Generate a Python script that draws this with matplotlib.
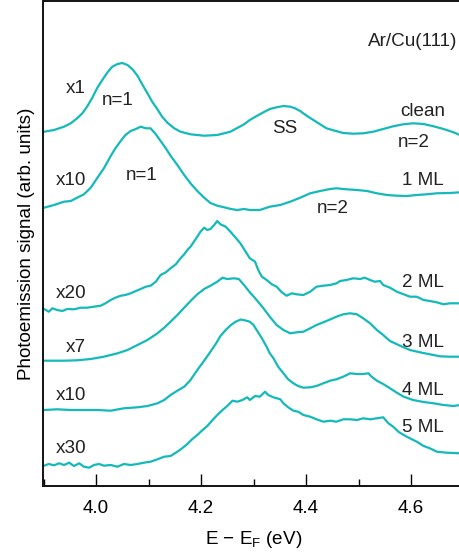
import matplotlib
matplotlib.use("Agg")
import matplotlib.pyplot as plt
from matplotlib.ticker import MultipleLocator

plt.rcParams['font.family'] = ['Liberation Sans', 'DejaVu Sans']
plt.rcParams['mathtext.fontset'] = 'custom'
plt.rcParams['mathtext.rm'] = 'Liberation Sans'
plt.rcParams['mathtext.it'] = 'Liberation Sans'

# ---- data (energy in eV, signal in arb. units, vertical offsets included) ----
e_clean = [3.901, 3.920, 3.939, 3.952, 3.964, 3.974, 3.983, 3.993, 4.002, 4.012,
           4.022, 4.031, 4.041, 4.050, 4.060, 4.069, 4.079, 4.088, 4.098, 4.107,
           4.117, 4.126, 4.136, 4.149, 4.161, 4.180, 4.206, 4.231, 4.256, 4.282,
           4.293, 4.306, 4.319, 4.331, 4.344, 4.357, 4.370, 4.379, 4.389, 4.401,
           4.414, 4.427, 4.439, 4.452, 4.471, 4.490, 4.509, 4.528, 4.547, 4.566,
           4.585, 4.604, 4.624, 4.643, 4.662, 4.681, 4.693]
s_clean = [354.3, 356.0, 359.3, 362.7, 367.7, 372.7, 379.3, 388.3, 397.7, 406.0,
           413.7, 419.3, 422.0, 423.0, 421.0, 417.0, 410.3, 401.7, 392.7, 384.3,
           376.7, 369.3, 363.3, 357.7, 354.3, 351.7, 350.3, 351.0, 354.3, 361.7,
           366.0, 370.0, 373.7, 377.0, 378.7, 380.0, 379.3, 377.7, 375.0, 370.3,
           366.0, 361.7, 357.7, 355.7, 353.0, 352.3, 352.7, 354.3, 357.0, 359.7,
           361.7, 362.7, 362.0, 359.7, 357.0, 353.7, 351.0]

e_1ml = [3.901, 3.920, 3.939, 3.952, 3.964, 3.977, 3.990, 4.002, 4.015, 4.028,
         4.037, 4.047, 4.056, 4.066, 4.076, 4.085, 4.095, 4.104, 4.114, 4.123,
         4.133, 4.142, 4.155, 4.168, 4.180, 4.193, 4.206, 4.218, 4.231, 4.244,
         4.257, 4.269, 4.282, 4.293, 4.312, 4.331, 4.351, 4.370, 4.389, 4.408,
         4.427, 4.446, 4.458, 4.477, 4.497, 4.516, 4.535, 4.554, 4.573, 4.592,
         4.611, 4.630, 4.649, 4.674, 4.693]
s_1ml = [278.3, 281.0, 284.3, 285.0, 288.3, 291.7, 298.3, 307.7, 317.7, 330.0,
         337.7, 345.0, 351.0, 355.0, 357.0, 359.3, 357.7, 357.7, 351.7, 345.0,
         337.7, 330.3, 321.0, 311.0, 302.7, 295.0, 288.3, 283.0, 280.3, 278.7,
         277.0, 276.0, 277.0, 276.0, 276.0, 279.3, 281.0, 284.3, 288.3, 292.7,
         295.0, 297.0, 297.7, 296.7, 296.0, 295.0, 292.7, 291.0, 290.3, 290.0,
         291.0, 291.7, 292.7, 293.0, 293.7]

e_2ml = [3.901, 3.910, 3.917, 3.926, 3.936, 3.945, 3.958, 3.971, 3.983, 3.996,
         4.009, 4.018, 4.028, 4.037, 4.047, 4.056, 4.066, 4.076, 4.085, 4.095,
         4.104, 4.114, 4.123, 4.133, 4.142, 4.152, 4.161, 4.168, 4.174, 4.180,
         4.190, 4.199, 4.206, 4.212, 4.218, 4.225, 4.231, 4.237, 4.247, 4.256,
         4.266, 4.275, 4.285, 4.293, 4.303, 4.309, 4.316, 4.325, 4.335, 4.344,
         4.354, 4.363, 4.373, 4.382, 4.395, 4.408, 4.420, 4.433, 4.446, 4.458,
         4.465, 4.477, 4.490, 4.503, 4.512, 4.522, 4.531, 4.541, 4.547, 4.560,
         4.573, 4.586, 4.598, 4.611, 4.624, 4.636, 4.649, 4.662, 4.674, 4.693]
s_2ml = [177.0, 174.3, 177.7, 176.0, 175.0, 177.0, 176.7, 178.3, 178.3, 179.3,
         180.3, 182.7, 186.0, 188.3, 190.3, 191.0, 192.7, 195.0, 197.0, 199.3,
         200.3, 204.3, 211.0, 213.7, 217.7, 221.7, 227.7, 231.7, 236.0, 239.3,
         247.0, 254.3, 258.3, 256.0, 257.0, 261.0, 265.0, 261.7, 259.3, 254.3,
         248.3, 242.7, 234.3, 227.7, 224.3, 216.0, 209.3, 206.0, 201.7, 199.3,
         193.7, 190.3, 192.7, 191.7, 191.0, 194.3, 199.3, 200.3, 201.0, 202.7,
         205.0, 206.0, 207.7, 207.0, 208.3, 206.0, 204.3, 205.0, 201.0, 198.3,
         194.3, 191.7, 189.3, 189.3, 186.0, 185.0, 183.7, 181.7, 182.7, 182.7]

e_3ml = [3.901, 3.939, 3.964, 3.990, 4.015, 4.041, 4.060, 4.079, 4.098, 4.117,
         4.130, 4.142, 4.155, 4.168, 4.180, 4.193, 4.206, 4.218, 4.231, 4.241,
         4.250, 4.263, 4.272, 4.282, 4.293, 4.306, 4.319, 4.331, 4.344, 4.357,
         4.370, 4.382, 4.395, 4.408, 4.420, 4.439, 4.458, 4.471, 4.484, 4.497,
         4.509, 4.522, 4.535, 4.547, 4.560, 4.579, 4.598, 4.617, 4.636, 4.655,
         4.674, 4.693]
s_3ml = [125.3, 125.3, 125.7, 127.0, 129.3, 132.7, 136.0, 141.0, 146.0, 152.7,
         158.3, 164.3, 171.0, 178.3, 185.0, 191.7, 197.0, 200.3, 204.3, 208.3,
         207.0, 207.7, 207.0, 201.0, 193.7, 186.0, 177.7, 169.3, 161.0, 156.0,
         152.7, 153.7, 154.3, 157.7, 161.0, 165.0, 169.3, 171.7, 172.7, 171.7,
         167.7, 162.7, 156.0, 151.0, 145.0, 140.3, 136.0, 133.7, 131.7, 129.7,
         129.3, 129.3]

e_4ml = [3.901, 3.926, 3.952, 3.977, 4.002, 4.028, 4.053, 4.079, 4.098, 4.117,
         4.130, 4.142, 4.155, 4.168, 4.180, 4.193, 4.206, 4.218, 4.228, 4.237,
         4.247, 4.257, 4.266, 4.276, 4.285, 4.293, 4.300, 4.306, 4.316, 4.325,
         4.331, 4.338, 4.347, 4.357, 4.366, 4.376, 4.385, 4.395, 4.408, 4.420,
         4.433, 4.446, 4.458, 4.471, 4.484, 4.497, 4.509, 4.519, 4.525, 4.535,
         4.547, 4.560, 4.573, 4.586, 4.604, 4.624, 4.643, 4.662, 4.681, 4.693]
s_4ml = [76.0, 76.7, 76.0, 76.0, 76.0, 75.3, 77.7, 78.7, 80.0, 82.7,
         86.0, 91.0, 95.3, 99.3, 106.0, 116.0, 125.3, 134.3, 142.0, 150.0,
         156.0, 161.0, 164.3, 166.5, 165.5, 164.3, 161.0, 156.0, 147.7, 139.3,
         132.7, 127.7, 119.3, 112.7, 106.7, 102.7, 100.0, 98.3, 98.7, 100.0,
         102.7, 105.3, 106.7, 109.3, 112.7, 112.0, 112.0, 112.7, 109.3, 105.3,
         102.0, 97.7, 93.3, 89.3, 86.0, 84.0, 82.7, 81.0, 80.0, 81.0]

e_5ml = [3.901, 3.910, 3.920, 3.930, 3.939, 3.949, 3.958, 3.968, 3.977, 3.987,
         3.996, 4.006, 4.015, 4.028, 4.041, 4.053, 4.066, 4.079, 4.091, 4.104,
         4.117, 4.130, 4.142, 4.155, 4.164, 4.174, 4.183, 4.193, 4.203, 4.212,
         4.222, 4.231, 4.241, 4.250, 4.260, 4.269, 4.279, 4.288, 4.293, 4.303,
         4.312, 4.322, 4.328, 4.338, 4.351, 4.357, 4.366, 4.376, 4.385, 4.395,
         4.408, 4.420, 4.433, 4.446, 4.458, 4.471, 4.484, 4.497, 4.509, 4.522,
         4.535, 4.547, 4.557, 4.566, 4.576, 4.586, 4.598, 4.611, 4.624, 4.636,
         4.649, 4.668, 4.693]
s_5ml = [20.3, 22.0, 20.7, 22.7, 21.0, 23.3, 20.0, 22.7, 19.3, 18.3,
         21.0, 22.0, 20.3, 21.0, 19.3, 22.0, 21.0, 22.0, 23.3, 24.3,
         26.7, 29.3, 30.0, 34.3, 37.7, 42.0, 46.7, 51.0, 56.0, 60.0,
         66.0, 71.0, 76.0, 80.0, 85.3, 84.3, 86.0, 88.7, 86.0, 90.0,
         89.3, 94.3, 91.0, 88.7, 86.7, 82.7, 78.7, 75.3, 74.3, 71.0,
         69.3, 66.7, 64.3, 65.3, 64.3, 66.7, 66.7, 66.0, 67.7, 66.7,
         67.7, 68.7, 62.7, 59.3, 54.3, 51.0, 47.7, 44.3, 40.0, 37.7,
         34.3, 33.3, 32.7]

x_ticks = [4.0, 4.2, 4.4, 4.6]
x_ticklabels = ["4.0", "4.2", "4.4", "4.6"]

color = '#14b9b9'

fig = plt.figure(figsize=(4.6, 5.54), dpi=100)
ax = fig.add_axes([43.5 / 460, 68 / 554, 420 / 460, 485 / 554])

for e, s in [(e_clean, s_clean), (e_1ml, s_1ml), (e_2ml, s_2ml),
             (e_3ml, s_3ml), (e_4ml, s_4ml), (e_5ml, s_5ml)]:
    ax.plot(e, s, color=color, lw=1.6, solid_joinstyle='round')

ax.set_xlim(3.9, 4.7)
ax.set_ylim(0, 485)
ax.set_xticks(x_ticks)
ax.set_xticklabels(x_ticklabels)
ax.xaxis.set_minor_locator(MultipleLocator(0.1))
ax.tick_params(axis='x', which='major', direction='in', length=9, width=1.0,
               labelsize=13.6, pad=10, top=False)
ax.tick_params(axis='x', which='minor', direction='in', length=5, width=1.0,
               top=False)
ax.set_yticks([])
for sp in ax.spines.values():
    sp.set_linewidth(1.4)
    sp.set_color('#111111')
ax.spines['right'].set_visible(False)

ax.set_xlabel(r'E $-$ E$_\mathrm{F}$ (eV)', fontsize=13.6, labelpad=9)
ax.set_ylabel('Photoemission signal (arb. units)', fontsize=13.6, labelpad=6)

fs = 13.6
tc = '#222222'
ax.text(4.688, 440, 'Ar/Cu(111)', ha='right', va='baseline', fontsize=fs, color=tc)
ax.text(3.942, 393, 'x1', ha='left', va='baseline', fontsize=fs, color=tc)
ax.text(4.011, 381, 'n=1', ha='left', va='baseline', fontsize=fs, color=tc)
ax.text(4.335, 353, 'SS', ha='left', va='baseline', fontsize=fs, color=tc)
ax.text(4.579, 369.5, 'clean', ha='left', va='baseline', fontsize=fs, color=tc)
ax.text(4.575, 339, 'n=2', ha='left', va='baseline', fontsize=fs, color=tc)
ax.text(3.923, 301, 'x10', ha='left', va='baseline', fontsize=fs, color=tc)
ax.text(4.057, 306, 'n=1', ha='left', va='baseline', fontsize=fs, color=tc)
ax.text(4.582, 301, '1 ML', ha='left', va='baseline', fontsize=fs, color=tc)
ax.text(4.420, 273, 'n=2', ha='left', va='baseline', fontsize=fs, color=tc)
ax.text(3.923, 187.7, 'x20', ha='left', va='baseline', fontsize=fs, color=tc)
ax.text(4.582, 199.3, '2 ML', ha='left', va='baseline', fontsize=fs, color=tc)
ax.text(3.942, 134.3, 'x7', ha='left', va='baseline', fontsize=fs, color=tc)
ax.text(4.582, 139.3, '3 ML', ha='left', va='baseline', fontsize=fs, color=tc)
ax.text(3.923, 86, 'x10', ha='left', va='baseline', fontsize=fs, color=tc)
ax.text(4.582, 91, '4 ML', ha='left', va='baseline', fontsize=fs, color=tc)
ax.text(3.923, 32.7, 'x30', ha='left', va='baseline', fontsize=fs, color=tc)
ax.text(4.582, 54.3, '5 ML', ha='left', va='baseline', fontsize=fs, color=tc)

fig.savefig('out.png', dpi=100)
